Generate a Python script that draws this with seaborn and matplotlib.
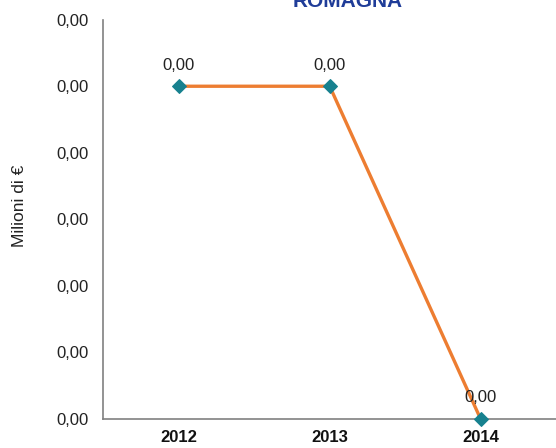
import matplotlib
matplotlib.use("Agg")
import matplotlib.pyplot as plt
import seaborn as sns
import pandas as pd

# Values (milioni di euro) - too small to show anything but 0,00 on the axis
years = ["2012", "2013", "2014"]
values = [0.0025, 0.0025, 0.0]
y_ticks = [0.0, 0.0005, 0.001, 0.0015, 0.002, 0.0025, 0.003]
title = "ROMAGNA"

df = pd.DataFrame({"Anno": years, "Valore": values})

sns.set_style("white")
plt.rcParams["font.family"] = ["Liberation Sans", "DejaVu Sans"]

fig = plt.figure(figsize=(5.56, 4.48), dpi=100)
ax = fig.add_axes([0.186, 0.065, 0.814, 0.891])

sns.lineplot(data=df, x="Anno", y="Valore", ax=ax, color="#ED7D31", linewidth=2.4,
             marker="D", markersize=7, markerfacecolor="#17818F",
             markeredgecolor="#17818F", zorder=3, clip_on=False)

# data labels
for i, v in enumerate(df["Valore"]):
    ax.annotate(f"{v:.2f}".replace(".", ","), (i, v), xytext=(0, 12),
                textcoords="offset points", ha="center", va="baseline",
                fontsize=12, color="#222222")

ax.set_xlim(-0.5, 2.5)
ax.set_ylim(y_ticks[0], y_ticks[-1])
ax.set_yticks(y_ticks)
ax.set_yticklabels([f"{t:.2f}".replace(".", ",") for t in y_ticks], fontsize=12, color="#222222")
ax.set_xticks(range(len(years)))
ax.set_xticklabels(years, fontsize=12, fontweight="bold", color="#111111")
ax.set_xticks([-0.5, 0.5, 1.5, 2.5], minor=True)
ax.tick_params(axis="x", which="major", length=0, pad=8)
ax.tick_params(axis="x", which="minor", length=5, width=1, color="#808080", direction="out")
ax.tick_params(axis="y", length=5, width=1, color="#808080", direction="out", pad=6)

ax.set_xlabel("")
ax.set_ylabel("Milioni di €", fontsize=12.5, color="#222222")
ax.yaxis.set_label_coords(-0.169, 0.534)

for s in ["top", "right"]:
    ax.spines[s].set_visible(False)
for s in ["left", "bottom"]:
    ax.spines[s].set_color("#808080")
    ax.spines[s].set_linewidth(1.2)

fig.text(0.626, 1 - 7 / 448, title, ha="center", va="baseline",
         fontsize=15, fontweight="bold", color="#1F3C98")

fig.savefig("out.png", dpi=100)
